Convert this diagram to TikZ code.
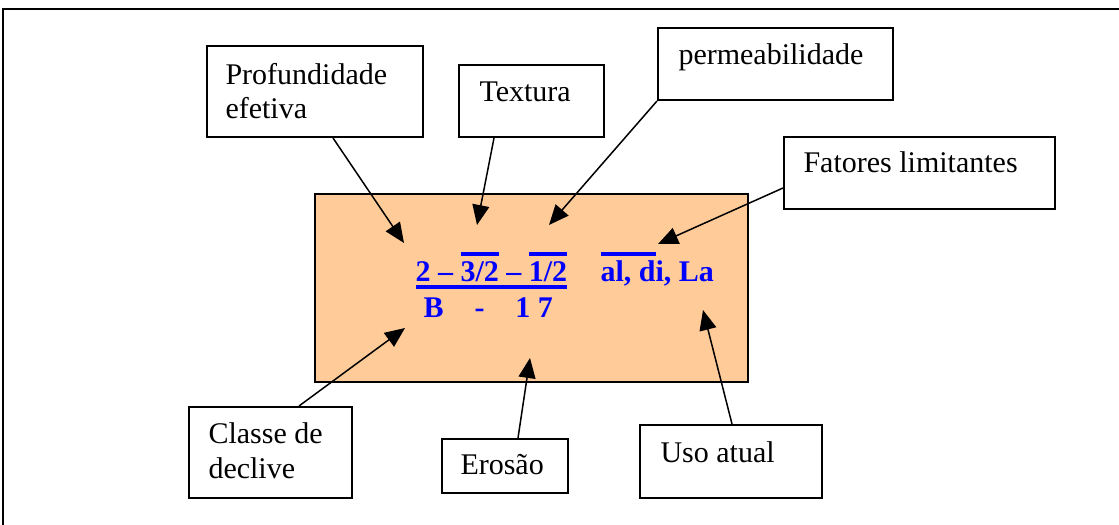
\documentclass[tikz,border=0pt]{standalone}
\usepackage{fontspec}
\setmainfont{Liberation Serif}
\usetikzlibrary{arrows.meta,calc}
\definecolor{orangefill}{RGB}{255,204,153}
\definecolor{txtblue}{RGB}{0,0,255}
\newsavebox\myovlbox
\newsavebox\myunlbox
\newcommand\myovl[1]{\sbox\myovlbox{#1}\rlap{\rule[10.4pt]{\wd\myovlbox}{1.6pt}}\usebox\myovlbox}
\newcommand\myunl[1]{\sbox\myunlbox{#1}\rlap{\rule[-2.8pt]{\wd\myunlbox}{1.6pt}}\usebox\myunlbox}
\begin{document}
\begin{tikzpicture}[x=0.4pt,y=-0.4pt,
  box/.style={draw,line width=0.8pt,inner sep=0pt,anchor=north west},
  lbl/.style={inner sep=0pt,font=\fontsize{12pt}{13.8pt}\selectfont,align=left},
  blu/.style={inner sep=0pt,anchor=base west,text=txtblue,font=\fontsize{12pt}{14pt}\selectfont\bfseries},
  arr/.style={line width=0.6pt,-{Triangle[length=8pt,width=6.8pt]}}]
\useasboundingbox (0,0) rectangle (1119,525);
% outer frame (cut by the page at right and bottom)
\draw[line width=0.7pt] (1119,9) -- (3,9) -- (3,525);
% central box
\node[box,fill=orangefill,minimum width=173.2pt,minimum height=75.2pt] (main) at (314,193) {};
% surrounding boxes
\node[box,minimum width=86.4pt,minimum height=36.4pt] (prof) at (206,45) {};
\node[box,minimum width=58pt,minimum height=28.8pt] (text) at (458,64) {};
\node[box,minimum width=94pt,minimum height=28.8pt] (perm) at (657,27) {};
\node[box,minimum width=108.4pt,minimum height=28.8pt] (fat) at (783,136) {};
\node[box,minimum width=65.2pt,minimum height=36.4pt] (cls) at (188,406) {};
\node[box,minimum width=50.4pt,minimum height=21.6pt] (ero) at (441,438) {};
\node[box,minimum width=72.8pt,minimum height=29.2pt] (uso) at (639,424) {};
% box texts
\node[lbl,anchor=north west] (profT) at ($(prof.north west)+(19,17.5)$) {Profundidade\\efetiva};
\node[lbl,anchor=base west] (textT) at ($(text.north west)+(21,38)$) {Textura};
\node[lbl,anchor=base west] (permT) at ($(perm.north west)+(21,38)$) {permeabilidade};
\node[lbl,anchor=base west] (fatT) at ($(fat.north west)+(20,37)$) {Fatores limitantes};
\node[lbl,anchor=north west] (clsT) at ($(cls.north west)+(20,16.5)$) {Classe de\\declive};
\node[lbl,anchor=base west] (eroT) at ($(ero.north west)+(19,36)$) {Erosão};
\node[lbl,anchor=base west] (usoT) at ($(uso.north west)+(21,38)$) {Uso atual};
% blue formula
\node[blu] (num) at (415,282) {\myunl{2 – \myovl{3/2} – \myovl{1/2}}};
\node[blu] (lim) at (600,282) {\myovl{al, d}i, La};
\node[blu] (den) at (423,318) {B\hspace{12.4pt}-\hspace{12.4pt}1 7};
% arrow tips
\coordinate (tA) at (404,243);
\coordinate (tB) at (477,225);
\coordinate (tC) at (549,225);
\coordinate (tD) at (658,244);
\coordinate (tE) at (405,328);
\coordinate (tF) at (530,358);
\coordinate (tG) at (703,310);
% connectors
\draw[arr] ($(prof.south west)+(127,0)$) -- (tA);
\draw[arr] ($(text.south west)+(36,0)$) -- (tB);
\draw[arr] (perm.south west) -- (tC);
\draw[arr] ($(fat.north west)+(0,52)$) -- (tD);
\draw[arr] ($(cls.north west)+(111,0)$) -- (tE);
\draw[arr] ($(ero.north west)+(77,0)$) -- (tF);
\draw[arr] ($(uso.north west)+(93,0)$) -- (tG);
\end{tikzpicture}
\end{document}
